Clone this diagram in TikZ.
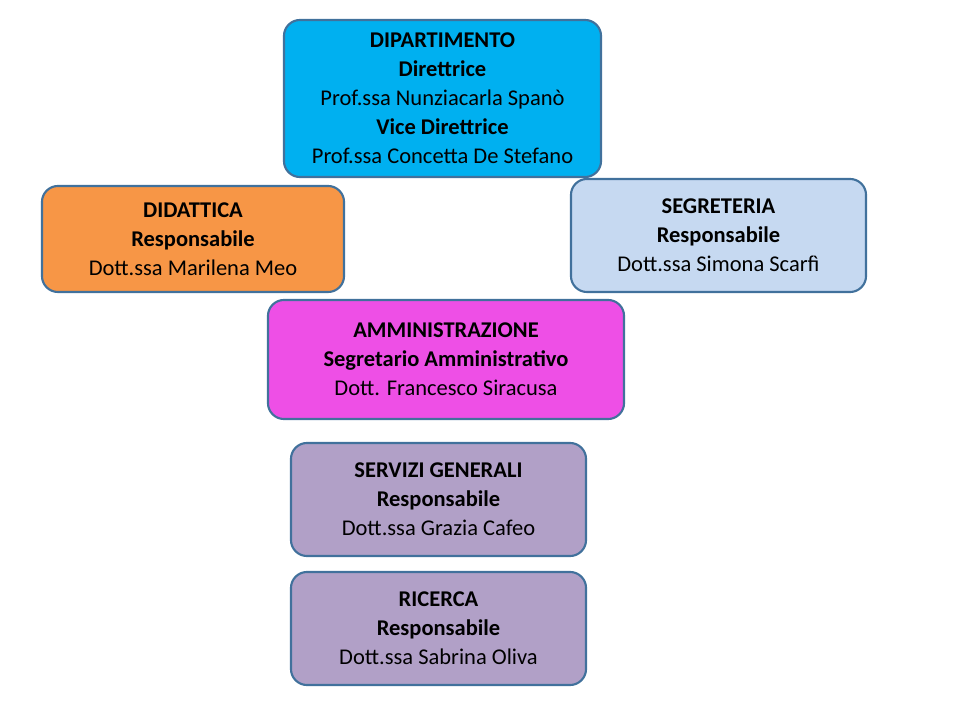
\documentclass[tikz,border=0pt]{standalone}
\usepackage{fontspec}
\setmainfont{Carlito}
\definecolor{bordo}{HTML}{41719C}
\definecolor{azzurro}{HTML}{00B0F0}
\definecolor{arancio}{HTML}{F79646}
\definecolor{celeste}{HTML}{C6D9F1}
\definecolor{magenta}{HTML}{EE4FE6}
\definecolor{lilla}{HTML}{B1A0C7}
\begin{document}
\begin{tikzpicture}[x=0.025cm,y=-0.025cm]
  \tikzset{ufficio/.style={draw=bordo,line width=1.5pt,rounded corners=0.4cm,align=center,
      inner sep=0pt,font=\fontsize{16}{20.6}\selectfont}}
  \useasboundingbox (0,0) rectangle (960,720);

  \node[ufficio,fill=azzurro,minimum width=7.925cm,minimum height=3.925cm] (dip) at (442.5,98.5)
    {\textbf{DIPARTIMENTO}\\\textbf{Direttrice}\\Prof.ssa Nunziacarla Spanò\\\textbf{Vice Direttrice}\\Prof.ssa Concetta De Stefano};
  \node[ufficio,fill=arancio,minimum width=7.55cm,minimum height=2.65cm] (did) at (193,239)
    {\textbf{DIDATTICA}\\\textbf{Responsabile}\\Dott.ssa Marilena Meo};
  \node[ufficio,fill=celeste,minimum width=7.375cm,minimum height=2.825cm] (seg) at (718.5,235.5)
    {\textbf{SEGRETERIA}\\\textbf{Responsabile}\\Dott.ssa Simona Scarfì};
  \node[ufficio,fill=magenta,minimum width=8.9cm,minimum height=2.975cm] (amm) at (446,359.5)
    {\textbf{AMMINISTRAZIONE}\\\textbf{Segretario Amministrativo}\\Dott. Francesco Siracusa};
  \node[ufficio,fill=lilla,minimum width=7.375cm,minimum height=2.825cm] (serv) at (438.5,499.5)
    {\textbf{SERVIZI GENERALI}\\\textbf{Responsabile}\\Dott.ssa Grazia Cafeo};
  \node[ufficio,fill=lilla,minimum width=7.375cm,minimum height=2.825cm] (ric) at (438.5,628.5)
    {\textbf{RICERCA}\\\textbf{Responsabile}\\Dott.ssa Sabrina Oliva};
\end{tikzpicture}
\end{document}
